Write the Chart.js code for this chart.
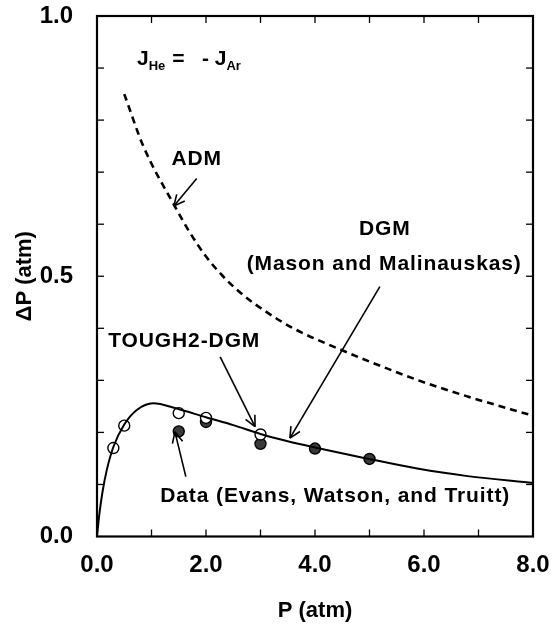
<!DOCTYPE html>
<html>
<head>
<meta charset="utf-8">
<script src="https://cdn.jsdelivr.net/npm/chart.js@4.4.1/dist/chart.umd.min.js"></script>
<style>
  html, body { margin: 0; padding: 0; background: #fff; }
</style>
</head>
<body>
<canvas id="grafica" width="553" height="624"></canvas>
<script>
// Curva TOUGH2-DGM (linea continua)
const presionDGM = [0, 0.04, 0.1, 0.18, 0.3, 0.5, 0.73, 1.03, 1.46, 2.0, 2.5, 3.0, 3.5, 4.0, 4.9, 5.9, 6.8, 8.0];
const deltaDGM = [0, 0.04, 0.085, 0.128, 0.172, 0.215, 0.243, 0.256, 0.246, 0.229, 0.214, 0.197, 0.183, 0.171, 0.151, 0.130, 0.116, 0.103];

// Curva ADM (linea discontinua)
const presionADM = [0.5, 0.85, 1.43, 1.71, 2.0, 2.32, 2.68, 3.1, 3.6, 4.2, 5.9, 6.8, 8.0];
const deltaADM = [0.85, 0.75, 0.634, 0.583, 0.538, 0.499, 0.464, 0.432, 0.400, 0.371, 0.30, 0.269, 0.232];

// Datos experimentales (Evans, Watson y Truitt)
const presionAbiertos = [0.3, 0.5, 1.5, 2.0, 3.0];
const deltaAbiertos = [0.17, 0.213, 0.237, 0.228, 0.196];
const presionLlenos = [1.5, 2.0, 3.0, 4.0, 5.0];
const deltaLlenos = [0.202, 0.22, 0.178, 0.169, 0.149];

// Etiquetas de los ejes
const etiquetasX = [0, 2, 4, 6, 8];
const etiquetasY = [0, 0.5, 1.0];

const fuente = '"Liberation Sans", Arial, Helvetica, sans-serif';

function puntos(xs, ys) {
    return xs.map((v, i) => ({ x: v, y: ys[i] }));
}

function linea(ctx, x1, y1, x2, y2) {
    ctx.beginPath();
    ctx.moveTo(x1, y1);
    ctx.lineTo(x2, y2);
    ctx.stroke();
}

function flecha(ctx, x1, y1, x2, y2) {
    linea(ctx, x1, y1, x2, y2);
    const ang = Math.atan2(y2 - y1, x2 - x1);
    const largo = 12, abre = 0.45;
    linea(ctx, x2, y2, x2 - largo * Math.cos(ang - abre), y2 - largo * Math.sin(ang - abre));
    linea(ctx, x2, y2, x2 - largo * Math.cos(ang + abre), y2 - largo * Math.sin(ang + abre));
}

// Textos y flechas, en unidades de los ejes
const notas = [
    { texto: 'ADM', x: 1.83, y: 0.724 },
    { texto: 'DGM', x: 5.28, y: 0.59 },
    { texto: '(Mason and Malinauskas)', x: 5.27, y: 0.524 },
    { texto: 'TOUGH2-DGM', x: 1.60, y: 0.376 },
    { texto: 'Data (Evans, Watson, and Truitt)', x: 4.37, y: 0.078 }
];
const flechas = [
    [1.83, 0.688, 1.41, 0.635],
    [5.19, 0.48, 3.54, 0.189],
    [2.26, 0.345, 2.90, 0.211],
    [1.63, 0.115, 1.43, 0.201]
];

// Marco, marcas hacia adentro y anotaciones
const marcoYNotas = {
    id: 'marcoYNotas',
    afterDatasetsDraw(chart) {
        const { ctx, chartArea: a, scales: { x, y } } = chart;
        ctx.save();
        ctx.strokeStyle = '#000';
        ctx.fillStyle = '#000';

        ctx.lineWidth = 1.3;
        x.ticks.forEach(t => {
            if (t.value <= 0 || t.value >= 8) return;
            const px = x.getPixelForValue(t.value);
            linea(ctx, px, a.bottom, px, a.bottom - 7);
            linea(ctx, px, a.top, px, a.top + 7);
        });
        y.ticks.forEach(t => {
            if (t.value <= 0.001 || t.value >= 0.999) return;
            const py = y.getPixelForValue(t.value);
            linea(ctx, a.left, py, a.left + 7, py);
            linea(ctx, a.right, py, a.right - 7, py);
        });

        ctx.lineWidth = 2.2;
        ctx.strokeRect(a.left, a.top, a.width, a.height);

        ctx.font = 'bold 21px ' + fuente;
        ctx.letterSpacing = '0.9px';
        ctx.textAlign = 'center';
        ctx.textBaseline = 'middle';
        notas.forEach(n => {
            ctx.fillText(n.texto, x.getPixelForValue(n.x), y.getPixelForValue(n.y));
        });
        ctx.letterSpacing = '0px';

        ctx.lineWidth = 1.6;
        flechas.forEach(f => {
            flecha(ctx,
                x.getPixelForValue(f[0]), y.getPixelForValue(f[1]),
                x.getPixelForValue(f[2]), y.getPixelForValue(f[3]));
        });

        // J_He = - J_Ar con subindices
        ctx.textAlign = 'left';
        ctx.textBaseline = 'alphabetic';
        let cx = x.getPixelForValue(0.734);
        const base = y.getPixelForValue(0.906);
        const partes = [
            ['J', 21, 0], ['He', 13, 5], [' =   - ', 21, 0], ['J', 21, 0], ['Ar', 13, 5]
        ];
        partes.forEach(([txt, tam, baja]) => {
            ctx.font = 'bold ' + tam + 'px ' + fuente;
            ctx.fillText(txt, cx, base + baja);
            cx += ctx.measureText(txt).width + (tam < 20 ? 1 : 0);
        });
        ctx.restore();
    }
};

const ctx = document.getElementById('grafica').getContext('2d');

new Chart(ctx, {
    type: 'scatter',
    data: {
        datasets: [
            {
                label: 'TOUGH2-DGM',
                type: 'line',
                data: puntos(presionDGM, deltaDGM),
                borderColor: '#000',
                borderWidth: 2,
                pointRadius: 0,
                cubicInterpolationMode: 'monotone',
                fill: false
            },
            {
                label: 'ADM',
                type: 'line',
                data: puntos(presionADM, deltaADM),
                borderColor: '#000',
                borderWidth: 2.6,
                borderDash: [7, 5],
                pointRadius: 0,
                cubicInterpolationMode: 'monotone',
                fill: false
            },
            {
                label: 'Data (abiertos)',
                data: puntos(presionAbiertos, deltaAbiertos),
                pointRadius: 5.5,
                pointBackgroundColor: '#fff',
                pointBorderColor: '#000',
                pointBorderWidth: 1.4
            },
            {
                label: 'Data (llenos)',
                data: puntos(presionLlenos, deltaLlenos),
                pointRadius: 5.5,
                pointBackgroundColor: '#3a3a3a',
                pointBorderColor: '#000',
                pointBorderWidth: 1.4
            }
        ]
    },
    options: {
        responsive: false,
        animation: false,
        layout: { padding: { top: 16, right: 20, left: 0, bottom: 0 } },
        plugins: {
            legend: { display: false },
            tooltip: { enabled: false }
        },
        scales: {
            x: {
                type: 'linear',
                min: 0,
                max: 8,
                grid: { display: false },
                border: { display: false },
                ticks: {
                    stepSize: 1,
                    padding: 6,
                    color: '#000',
                    font: { family: fuente, size: 24, weight: 'bold' },
                    callback: v => etiquetasX.includes(v) ? v.toFixed(1) : ''
                },
                title: {
                    display: true,
                    text: 'P (atm)',
                    color: '#000',
                    padding: { top: 0, bottom: 0 },
                    font: { family: fuente, size: 22, weight: 'bold' }
                },
                afterFit: s => {
                    s.height = 87.5;
                    s.paddingLeft = 0;
                    s.paddingRight = 0;
                }
            },
            y: {
                type: 'linear',
                min: 0,
                max: 1,
                grid: { display: false },
                border: { display: false },
                ticks: {
                    stepSize: 0.1,
                    padding: 16,
                    color: '#000',
                    font: { family: fuente, size: 24, weight: 'bold' },
                    callback: v => etiquetasY.some(e => Math.abs(e - v) < 1e-6) ? v.toFixed(1) : ''
                },
                title: {
                    display: true,
                    text: 'ΔP (atm)',
                    color: '#000',
                    padding: { top: 12, bottom: 0 },
                    font: { family: fuente, size: 22, weight: 'bold' }
                },
                afterFit: s => {
                    s.width = 97;
                    s.paddingTop = 0;
                    s.paddingBottom = 0;
                }
            }
        }
    },
    plugins: [marcoYNotas]
});
</script>
</body>
</html>
